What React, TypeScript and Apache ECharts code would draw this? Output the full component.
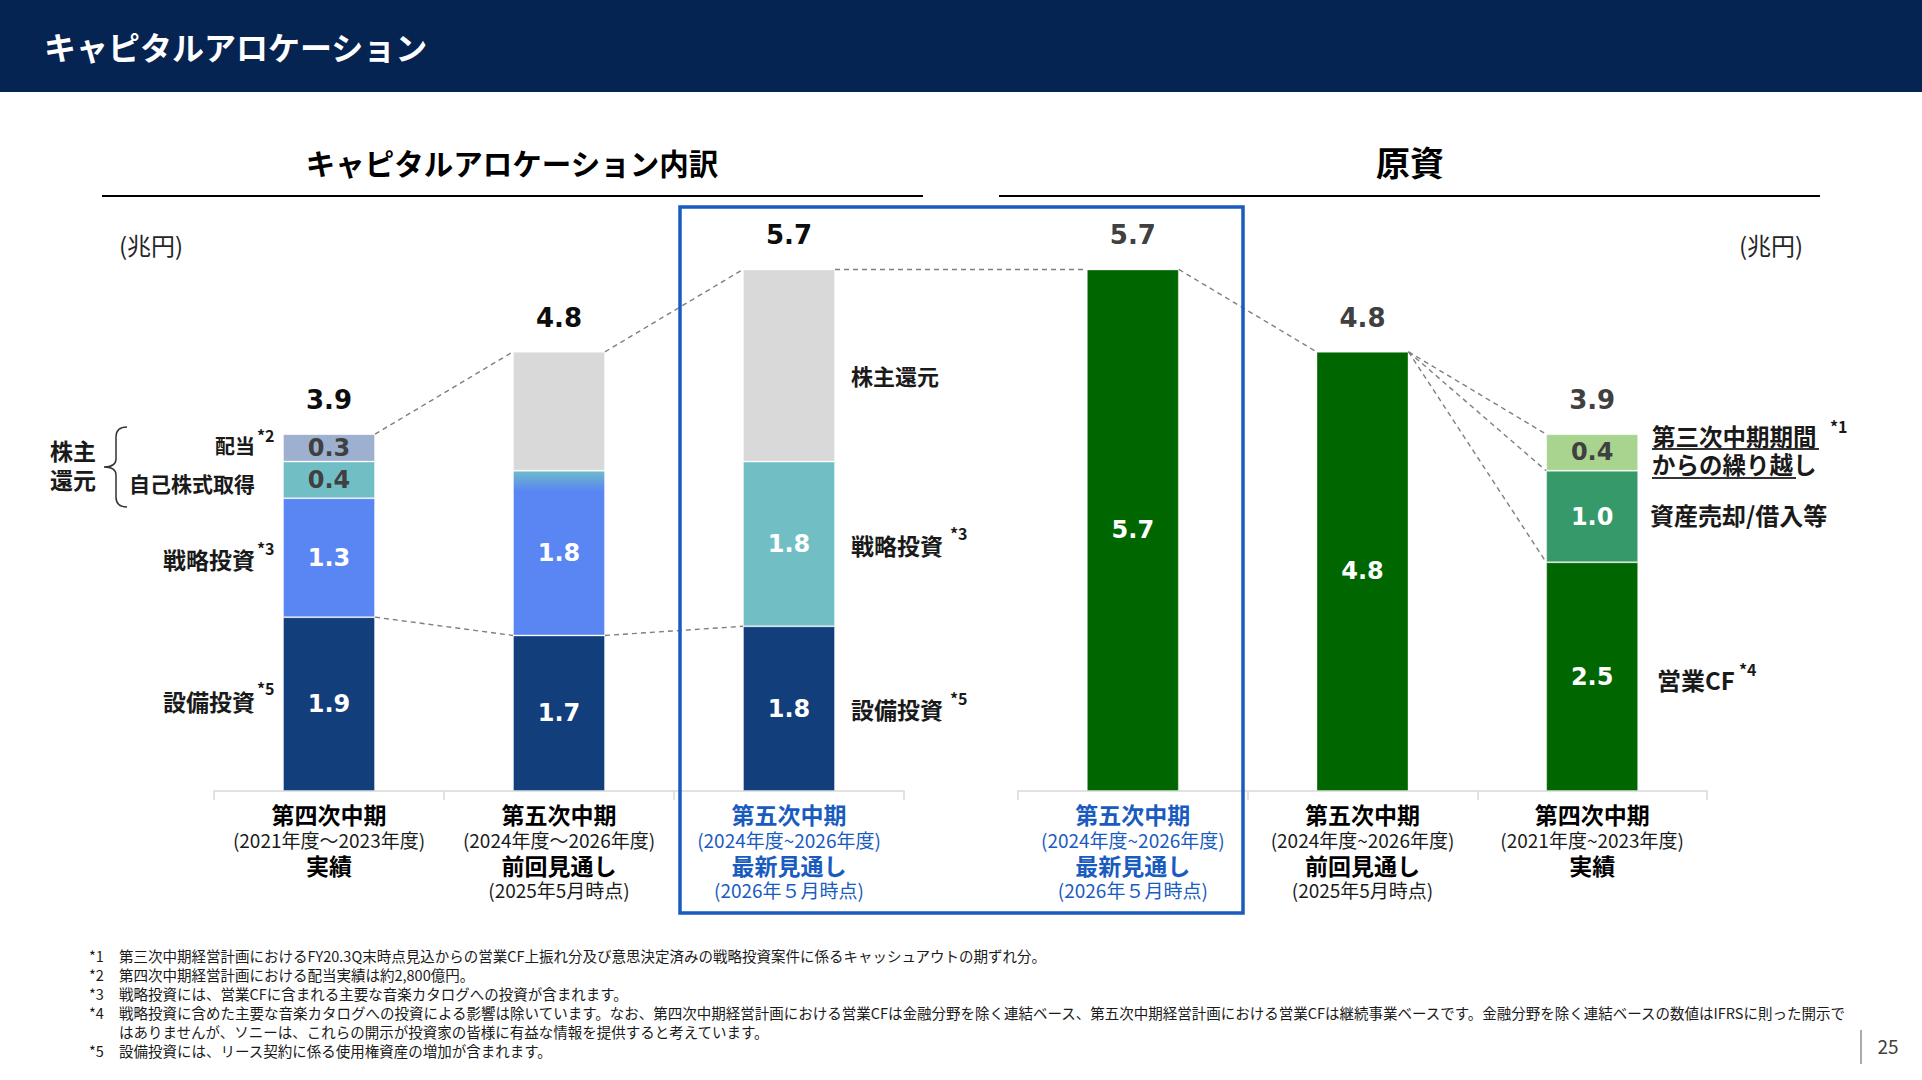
import React, { useEffect, useRef } from 'react';
import * as echarts from 'echarts';

const CJK = "'Noto Sans CJK JP', 'Noto Sans', sans-serif";
const NUM = "'DejaVu Sans', Verdana, sans-serif";

// ---- キャピタルアロケーション内訳 (兆円) ----
const allocCategories = [
  '第四次中期\n(2021年度～2023年度)\n実績',
  '第五次中期\n(2024年度～2026年度)\n前回見通し\n(2025年5月時点)',
  '第五次中期\n(2024年度~2026年度)\n最新見通し\n(2026年５月時点)',
];
const capex = [1.9, 1.7, 1.8];
const strategic = [1.3, 1.8, 1.8];
const buyback = [0.4, null, null];
const dividend = [0.3, null, null];
const shareholderReturn = [null, 1.3, 2.1];
const allocTotals = [3.9, 4.8, 5.7];

// ---- 原資 (兆円) ----
const fundCategories = [
  '第五次中期\n(2024年度~2026年度)\n最新見通し\n(2026年５月時点)',
  '第五次中期\n(2024年度~2026年度)\n前回見通し\n(2025年5月時点)',
  '第四次中期\n(2021年度~2023年度)\n実績',
];
const operatingCF = [5.7, 4.8, 2.5];
const assetSales = [null, null, 1.0];
const carryover = [null, null, 0.4];
const fundTotals = [5.7, 4.8, 3.9];

const footnotes = [
  ['*1', '第三次中期経営計画におけるFY20.3Q末時点見込からの営業CF上振れ分及び意思決定済みの戦略投資案件に係るキャッシュアウトの期ずれ分。'],
  ['*2', '第四次中期経営計画における配当実績は約2,800億円。'],
  ['*3', '戦略投資には、営業CFに含まれる主要な音楽カタログへの投資が含まれます。'],
  ['*4', '戦略投資に含めた主要な音楽カタログへの投資による影響は除いています。なお、第四次中期経営計画における営業CFは金融分野を除く連結ベース、第五次中期経営計画における営業CFは継続事業ベースです。金融分野を除く連結ベースの数値はIFRSに則った開示で'],
  ['', 'はありませんが、ソニーは、これらの開示が投資家の皆様に有益な情報を提供すると考えています。'],
  ['*5', '設備投資には、リース契約に係る使用権資産の増加が含まれます。'],
];

// dashed connectors: [grid, category, value] -> [grid, category, value]
const connectors: [number, number, number, number, number, number][] = [
  [0, 0, allocTotals[0], 0, 1, allocTotals[1]],
  [0, 1, allocTotals[1], 0, 2, allocTotals[2]],
  [0, 2, allocTotals[2], 1, 0, fundTotals[0]],
  [1, 0, fundTotals[0], 1, 1, fundTotals[1]],
  [0, 0, capex[0], 0, 1, capex[1]],
  [0, 1, capex[1], 0, 2, capex[2]],
  [1, 1, fundTotals[1], 1, 2, fundTotals[2]],
  [1, 1, fundTotals[1], 1, 2, operatingCF[2] + (assetSales[2] as number)],
  [1, 1, fundTotals[1], 1, 2, operatingCF[2]],
];

const NAVY = '#133E7C';
const BLUE = '#5A86F3';
const TEAL = '#72BEC5';
const DIV_COLOR = '#9DB0CF';
const GRAY = '#D9D9D9';
const GREEN = '#006600';
const MID_GREEN = '#36996A';
const LIGHT_GREEN = '#A9D48F';
const ACCENT = '#1A5BC0';
const BAR_W = 92;

const BRACE_D = 'M23 0 C16 0 12 3 12 10 L12 32 C12 37 8 40 0 40 C8 40 12 43 12 48 L12 70 C12 77 16 80 23 80';
echarts.graphic.registerShape('brace', echarts.graphic.extendPath(BRACE_D, {}));

const valueLabel = (color: string) => ({
  show: true,
  position: 'inside',
  color,
  fontFamily: NUM,
  fontWeight: 'bold',
  fontSize: 24,
  formatter: (p: any) => (p.value == null ? '' : Number(p.value).toFixed(1)),
});

const totalLabel = (color: string) => ({
  show: true,
  position: 'top',
  distance: 21,
  color,
  fontFamily: NUM,
  fontWeight: 'bold',
  fontSize: 26,
  formatter: (p: any) => Number(p.value).toFixed(1),
});

const richStyles = (() => {
  const base = (size: number, bold: boolean, color: string) => ({
    fontSize: size,
    fontWeight: bold ? 'bold' : 'normal',
    fontFamily: CJK,
    lineHeight: 25.4,
    color,
  });
  return {
    t: base(23, true, '#000'),
    s: base(19, false, '#1a1a1a'),
    tB: base(23, true, ACCENT),
    sB: base(19, false, ACCENT),
  };
})();

const catFormatter = (blueIndex: number) => (value: string, index: number) =>
  value
    .split('\n')
    .map((line, i) => `{${i % 2 === 0 ? 't' : 's'}${index === blueIndex ? 'B' : ''}|${line}}`)
    .join('\n');

const xAxisBase = {
  type: 'category',
  axisLine: { lineStyle: { color: GRAY, width: 1.5 } },
  axisTick: { show: true, length: 9, lineStyle: { color: GRAY, width: 1.5 } },
  axisLabel: { interval: 0, margin: 10, rich: richStyles },
};

const yAxisBase = {
  type: 'value',
  min: 0,
  max: 6,
  show: false,
  splitLine: { show: false },
};

function text(x: number, y: number, t: string, size: number, opts: any = {}) {
  const align = opts.align || 'left';
  return {
    type: 'text',
    x,
    y: y - 1.5,
    z: 10,
    style: {
      text: t,
      fontSize: size,
      fontWeight: opts.weight || 'bold',
      fontFamily: opts.family || CJK,
      fill: opts.color || '#1a1a1a',
      align,
      textAlign: align,
      verticalAlign: 'middle',
      textVerticalAlign: 'middle',
    },
  };
}

function hline(x1: number, x2: number, y: number, color: string, w: number) {
  return { type: 'line', z: 10, shape: { x1, y1: y, x2, y2: y }, style: { stroke: color, lineWidth: w } };
}

const staticGraphics: any[] = [
  { type: 'rect', z: 0, shape: { x: 0, y: 0, width: 1922, height: 92 }, style: { fill: '#052451' } },
  text(44, 47, 'キャピタルアロケーション', 32, { color: '#ffffff' }),

  text(512, 163, 'キャピタルアロケーション内訳', 29.5, { align: 'center', color: '#000' }),
  hline(102, 923, 196, '#000', 2),
  text(1410, 163, '原資', 34, { align: 'center', color: '#000' }),
  hline(999, 1820, 196, '#000', 2),

  text(151, 246, '(兆円)', 24, { align: 'center', weight: 'normal', color: '#262626' }),
  text(1771, 246, '(兆円)', 24, { align: 'center', weight: 'normal', color: '#262626' }),

  // left-hand annotations
  text(73, 451, '株主', 23, { align: 'center' }),
  text(73, 480, '還元', 23, { align: 'center' }),
  { type: 'brace', x: 104, y: 427, z: 10, style: { stroke: '#333', fill: 'none', lineWidth: 1.5 } },
  text(255, 447, '配当', 20, { align: 'right' }),
  text(257, 436, '*2', 16),
  text(255, 484, '自己株式取得', 21, { align: 'right' }),
  text(255, 560, '戦略投資', 23, { align: 'right' }),
  text(257, 549, '*3', 16),
  text(255, 702, '設備投資', 23, { align: 'right' }),
  text(257, 689, '*5', 16),

  // annotations beside the latest outlook
  text(851, 376, '株主還元', 22),
  text(851, 546, '戦略投資', 23),
  text(950, 534, '*3', 16),
  text(851, 710, '設備投資', 23),
  text(950, 699, '*5', 16),

  // annotations beside the funding results
  text(1652, 437, '第三次中期期間', 23.5),
  hline(1652, 1819, 449, '#333', 2),
  text(1830, 427, '*1', 16),
  text(1652, 465, 'からの繰り越し', 23.5),
  hline(1652, 1796, 478, '#333', 2),
  text(1650, 516, '資産売却/借入等', 24),
  text(1657, 681, '営業CF', 24),
  text(1739, 670, '*4', 16),

  // highlight frame
  {
    type: 'rect',
    z: 9,
    shape: { x: 680, y: 207, width: 563, height: 706 },
    style: { fill: 'none', stroke: ACCENT, lineWidth: 3.5 },
  },

  // page number
  { type: 'line', z: 10, shape: { x1: 1861, y1: 1030, x2: 1861, y2: 1064 }, style: { stroke: '#595959', lineWidth: 1 } },
  text(1888, 1047, '25', 19, { align: 'center', weight: 'normal', color: '#404040' }),
];

footnotes.forEach(([mark, body], i) => {
  const y = 957 + i * 19;
  if (mark) staticGraphics.push(text(89, y, mark, 14.5, { weight: 'normal', color: '#1a1a1a' }));
  staticGraphics.push(text(119, y, body, 14.5, { weight: 'normal', color: '#1a1a1a' }));
});

const strategicColors = [
  BLUE,
  new echarts.graphic.LinearGradient(0, 0, 0, 1, [
    { offset: 0, color: '#6DBBC9' },
    { offset: 0.12, color: BLUE },
    { offset: 1, color: BLUE },
  ]),
  TEAL,
];

const segBorder = { borderColor: 'rgba(255,255,255,0.35)', borderWidth: 1 };

const baseOption: any = {
  animation: false,
  backgroundColor: '#ffffff',
  grid: [
    { left: 214, top: 242, width: 690, height: 549 },
    { left: 1018, top: 242, width: 689, height: 549 },
  ],
  xAxis: [
    { ...xAxisBase, gridIndex: 0, data: allocCategories, axisLabel: { ...xAxisBase.axisLabel, formatter: catFormatter(2) } },
    { ...xAxisBase, gridIndex: 1, data: fundCategories, axisLabel: { ...xAxisBase.axisLabel, formatter: catFormatter(0) } },
  ],
  yAxis: [
    { ...yAxisBase, gridIndex: 0 },
    { ...yAxisBase, gridIndex: 1 },
  ],
  series: [
    {
      type: 'bar', name: '合計', xAxisIndex: 0, yAxisIndex: 0, barWidth: BAR_W, barGap: '-100%', silent: true, z: 1,
      data: allocTotals, itemStyle: { color: 'rgba(0,0,0,0)' }, label: totalLabel('#0d0d0d'),
    },
    {
      type: 'bar', name: '設備投資', xAxisIndex: 0, yAxisIndex: 0, stack: 'alloc', barWidth: BAR_W, barGap: '-100%',
      data: capex, itemStyle: { color: NAVY, ...segBorder }, label: valueLabel('#ffffff'),
    },
    {
      type: 'bar', name: '戦略投資', xAxisIndex: 0, yAxisIndex: 0, stack: 'alloc', barWidth: BAR_W, barGap: '-100%',
      data: strategic.map((v, i) => ({ value: v, itemStyle: { color: strategicColors[i] } })),
      itemStyle: segBorder, label: valueLabel('#ffffff'),
    },
    {
      type: 'bar', name: '自己株式取得', xAxisIndex: 0, yAxisIndex: 0, stack: 'alloc', barWidth: BAR_W, barGap: '-100%',
      data: buyback, itemStyle: { color: TEAL, ...segBorder }, label: valueLabel('#404040'),
    },
    {
      type: 'bar', name: '配当', xAxisIndex: 0, yAxisIndex: 0, stack: 'alloc', barWidth: BAR_W, barGap: '-100%',
      data: dividend, itemStyle: { color: DIV_COLOR, ...segBorder }, label: valueLabel('#404040'),
    },
    {
      type: 'bar', name: '株主還元', xAxisIndex: 0, yAxisIndex: 0, stack: 'alloc', barWidth: BAR_W, barGap: '-100%',
      data: shareholderReturn, itemStyle: { color: GRAY, ...segBorder }, label: { show: false },
    },
    {
      type: 'bar', name: '原資合計', xAxisIndex: 1, yAxisIndex: 1, barWidth: BAR_W, barGap: '-100%', silent: true, z: 1,
      data: fundTotals, itemStyle: { color: 'rgba(0,0,0,0)' }, label: totalLabel('#404040'),
    },
    {
      type: 'bar', name: '営業CF', xAxisIndex: 1, yAxisIndex: 1, stack: 'fund', barWidth: BAR_W, barGap: '-100%',
      data: operatingCF, itemStyle: { color: GREEN, ...segBorder }, label: valueLabel('#ffffff'),
    },
    {
      type: 'bar', name: '資産売却/借入等', xAxisIndex: 1, yAxisIndex: 1, stack: 'fund', barWidth: BAR_W, barGap: '-100%',
      data: assetSales, itemStyle: { color: MID_GREEN, ...segBorder }, label: valueLabel('#ffffff'),
    },
    {
      type: 'bar', name: '第三次中期期間からの繰り越し', xAxisIndex: 1, yAxisIndex: 1, stack: 'fund', barWidth: BAR_W, barGap: '-100%',
      data: carryover, itemStyle: { color: LIGHT_GREEN, ...segBorder }, label: valueLabel('#404040'),
    },
  ],
};

export default function App() {
  const ref = useRef<HTMLDivElement>(null);

  useEffect(() => {
    document.body.style.margin = '0';
    document.body.style.overflow = 'hidden';
    const chart = echarts.init(ref.current!, null, { renderer: 'svg' });
    chart.setOption(baseOption);

    const edge = (g: number, cat: number, val: number, side: number) => {
      const p = chart.convertToPixel({ xAxisIndex: g, yAxisIndex: g }, [cat, val]) as number[];
      return [p[0] + (side * BAR_W) / 2, p[1]];
    };

    const connectorLines = connectors.map(([g1, c1, v1, g2, c2, v2]) => {
      const a = edge(g1, c1, v1, 1);
      const b = edge(g2, c2, v2, -1);
      return {
        type: 'line',
        z: 5,
        shape: { x1: a[0], y1: a[1], x2: b[0], y2: b[1] },
        style: { stroke: '#7F7F7F', lineWidth: 1.4, lineDash: [5, 4] },
      };
    });

    chart.setOption({ graphic: [...staticGraphics, ...connectorLines] });

    return () => chart.dispose();
  }, []);

  return (
    <div
      ref={ref}
      style={{ position: 'absolute', left: 0, top: 0, width: 1922, height: 1080, background: '#fff' }}
    />
  );
}
